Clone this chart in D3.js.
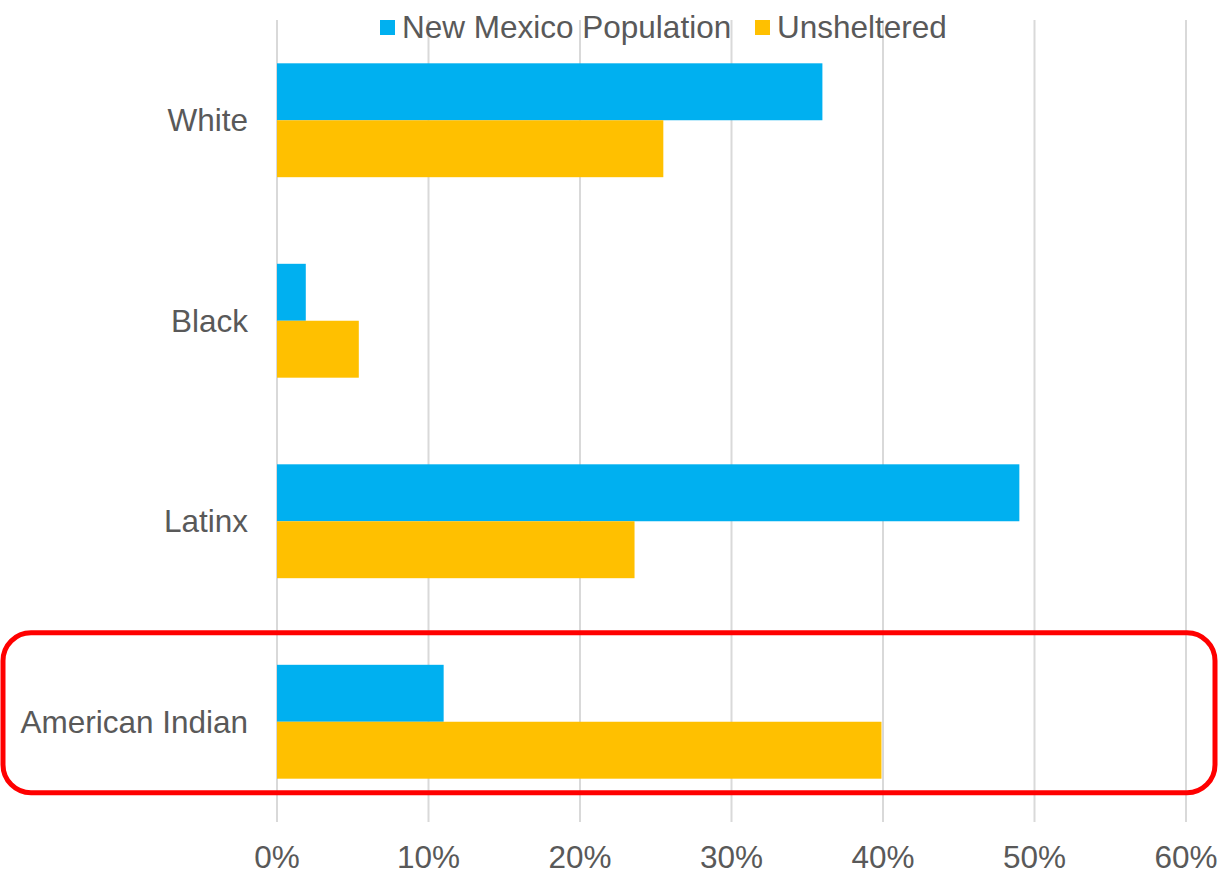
<!DOCTYPE html>
<html>
<head>
<meta charset="utf-8">
<style>
  body { margin: 0; background: #fff; }
  svg text { font-family: "Liberation Sans", Arial, sans-serif; fill: #595959; }
</style>
</head>
<body>
<div id="chart"></div>
<script src="https://cdn.jsdelivr.net/npm/d3@7"></script>
<script>
var categories = ['White', 'Black', 'Latinx', 'American Indian'];
var seriesNames = ['New Mexico Population', 'Unsheltered'];
var nmPopulation = [0.360, 0.019, 0.490, 0.110];
var unsheltered = [0.255, 0.054, 0.236, 0.399];
var ticks = [0, 0.1, 0.2, 0.3, 0.4, 0.5, 0.6];
var colors = ['#00B0F0', '#FFC000'];
var highlighted = 'American Indian';

var width = 1219, height = 875
  , plotLeft = 277, plotRight = 1186
  , plotTop = 20, plotBottom = 822
  , fontSize = 31.5
;

var svg = d3.select('#chart').append('svg')
  .attr('width', width)
  .attr('height', height);

var x = d3.scaleLinear().domain([0, 0.6]).range([plotLeft, plotRight]);
var y = d3.scaleBand().domain(categories).range([plotTop, plotBottom]).paddingInner(0.432).paddingOuter(0.216);
var ySub = d3.scaleBand().domain(seriesNames).range([0, y.bandwidth()]);

// gridlines
svg.append('g').selectAll('line')
  .data(ticks)
  .enter().append('line')
    .attr('x1', function (d) { return x(d); })
    .attr('x2', function (d) { return x(d); })
    .attr('y1', plotTop)
    .attr('y2', plotBottom)
    .attr('stroke', '#d9d9d9')
    .attr('stroke-width', 2);

// tick labels
svg.append('g').selectAll('text')
  .data(ticks)
  .enter().append('text')
    .attr('x', function (d) { return x(d); })
    .attr('y', 868)
    .attr('text-anchor', 'middle')
    .attr('font-size', fontSize)
    .text(d3.format('.0%'));

var rows = categories.map(function (c, i) {
  return {cat: c, values: [nmPopulation[i], unsheltered[i]]};
});

var groups = svg.append('g').selectAll('g')
  .data(rows)
  .enter().append('g')
    .attr('transform', function (d) { return 'translate(0,' + y(d.cat) + ')'; });

groups.selectAll('rect')
  .data(function (d) { return d.values.map(function (v, j) { return {name: seriesNames[j], v: v, j: j}; }); })
  .enter().append('rect')
    .attr('x', x(0))
    .attr('y', function (d) { return ySub(d.name); })
    .attr('width', function (d) { return x(d.v) - x(0); })
    .attr('height', ySub.bandwidth())
    .attr('fill', function (d) { return colors[d.j]; });

// category labels
svg.append('g').selectAll('text')
  .data(categories)
  .enter().append('text')
    .attr('x', 248)
    .attr('y', function (d) { return y(d) + y.bandwidth() / 2; })
    .attr('dy', '0.35em')
    .attr('text-anchor', 'end')
    .attr('font-size', fontSize)
    .text(function (d) { return d; });

// legend
var legendX = [380, 755];
var legend = svg.append('g').selectAll('g')
  .data(seriesNames)
  .enter().append('g')
    .attr('transform', function (d, i) { return 'translate(' + legendX[i] + ',0)'; });
legend.append('rect')
  .attr('x', 0).attr('y', 20).attr('width', 15).attr('height', 15)
  .attr('fill', function (d, i) { return colors[i]; });
legend.append('text')
  .attr('x', 22).attr('y', 38)
  .attr('font-size', fontSize)
  .text(function (d) { return d; });

// highlight box around the American Indian row
var hy = y(highlighted);
svg.append('rect')
  .attr('x', 3)
  .attr('y', hy - 32)
  .attr('width', 1212)
  .attr('height', y.bandwidth() + 46)
  .attr('rx', 28)
  .attr('fill', 'none')
  .attr('stroke', '#FF0000')
  .attr('stroke-width', 5);
</script>
</body>
</html>
